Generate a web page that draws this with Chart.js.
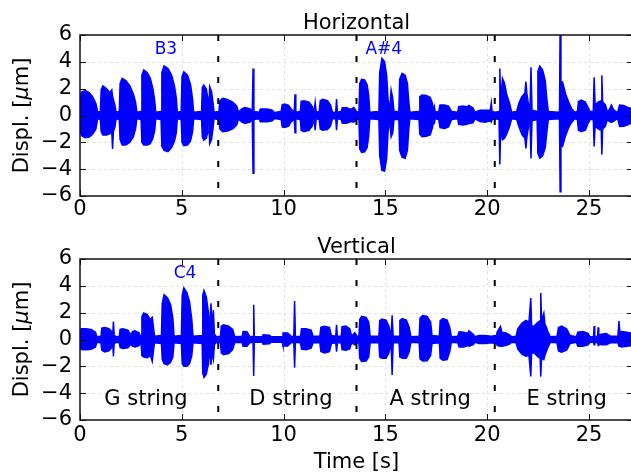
<!DOCTYPE html>
<html>
<head>
<meta charset="utf-8">
<script src="https://cdn.jsdelivr.net/npm/chart.js@4/dist/chart.umd.min.js"></script>
<style>
  html, body { margin: 0; padding: 0; background: #fff; overflow: hidden; width: 631px; height: 475px; }
  canvas.panel { position: absolute; left: 0; }
</style>
</head>
<body>
<canvas id="horizontal" class="panel" width="634" height="230" style="top:0px"></canvas>
<canvas id="vertical" class="panel" width="634" height="245" style="top:230px"></canvas>
<script>
// ---- axes ----
const timeRange = [0, 27.16];
const xTickValues = [0, 5, 10, 15, 20, 25];
const yTickValues = [-6, -4, -2, 0, 2, 4, 6];
const stringBoundaries = [6.79, 13.58, 20.37];
const stringNames = ['G string', 'D string', 'A string', 'E string'];

// ---- horizontal displacement envelope (µm): sample times, upper and lower bounds ----
const hTime = [
  0.00, 0.08, 0.25, 0.45, 0.62, 0.78, 0.86, 0.95,
  1.00, 1.04, 1.12, 1.30, 1.48, 1.56, 1.60, 1.64, 1.71, 1.77,
  1.93, 1.97, 2.07, 2.25, 2.45, 2.62, 2.73, 2.79,
  3.00, 3.04, 3.13, 3.30, 3.45, 3.58, 3.67, 3.72,
  3.98, 4.02, 4.13, 4.32, 4.50, 4.64, 4.73, 4.78,
  4.97, 5.01, 5.10, 5.28, 5.43, 5.53, 5.58,
  5.97, 6.01, 6.08, 6.20, 6.29, 6.33, 6.37, 6.46, 6.53, 6.58,
  6.82, 6.87, 7.00, 7.25, 7.50, 7.70, 7.78,
  7.95, 8.10, 8.35, 8.46, 8.50, 8.54,
  8.80, 8.86, 9.20, 9.44, 9.55,
  9.88, 9.93, 10.05, 10.25, 10.36, 10.52, 10.56, 10.60,
  10.82, 10.86, 11.00, 11.25, 11.40, 11.50, 11.55, 11.60,
  11.75, 11.80, 11.92, 12.15, 12.30, 12.40, 12.56, 12.60, 12.64,
  12.83, 12.88, 13.10, 13.30, 13.45, 13.60,
  13.70, 13.74, 13.83, 13.98, 14.10, 14.18, 14.23,
  14.68, 14.72, 14.83, 14.96, 15.06, 15.13, 15.20, 15.28, 15.36, 15.42,
  15.66, 15.70, 15.82, 15.97, 16.08, 16.15, 16.20,
  16.65, 16.69, 16.80, 17.00, 17.20, 17.31, 17.38, 17.41, 17.45,
  17.62, 17.68, 17.90, 18.10, 18.25,
  18.55, 18.60, 18.80, 19.00, 19.10, 19.30, 19.40,
  19.65, 19.90, 20.15, 20.20, 20.24, 20.40,
  20.58, 20.62, 20.66, 20.75, 20.85, 20.95, 21.10, 21.20,
  21.45, 21.55, 21.70, 21.85, 21.90, 21.95, 22.03, 22.10, 22.15, 22.20,
  22.45, 22.49, 22.58, 22.72, 22.85, 22.93, 23.00, 23.50,
  23.55, 23.58, 23.62, 23.70, 23.85, 24.00, 24.15, 24.30,
  24.43, 24.48, 24.62, 24.82, 24.95, 25.05, 25.21, 25.25, 25.30,
  25.45, 25.60, 25.63, 25.67, 25.80, 25.90,
  26.00, 26.10, 26.20, 26.35, 26.42, 26.50, 26.70, 26.90, 27.16
];
const hUpper = [
  1.3, 1.75, 1.85, 1.7, 1.4, 0.9, 0.3, 0.25,
  0.3, 1.9, 2.2, 2.0, 1.7, 1.9, 1.4, 1.2, 0.8, 0.25,
  0.3, 2.4, 2.77, 2.6, 2.2, 1.6, 1.0, 0.25,
  0.3, 3.0, 3.39, 3.2, 2.8, 2.0, 1.1, 0.25,
  0.3, 3.2, 3.69, 3.5, 3.0, 2.2, 1.3, 0.25,
  0.3, 2.9, 3.26, 3.0, 2.3, 1.2, 0.25,
  0.3, 2.1, 2.27, 2.0, 1.2, 0.4, 2.15, 1.8, 1.0, 0.25,
  0.3, 1.1, 1.28, 1.2, 1.0, 0.7, 0.25,
  0.5, 0.6, 0.5, 0.3, 3.5, 0.3,
  0.25, 0.48, 0.48, 0.4, 0.22,
  0.3, 0.8, 0.86, 0.75, 0.5, 0.25, 1.58, 0.25,
  0.3, 1.05, 1.1, 1.0, 0.7, 0.3, 0.97, 0.25,
  0.3, 1.1, 1.2, 1.1, 0.8, 0.25, 0.25, 1.23, 0.25,
  0.3, 0.58, 0.58, 0.45, 0.6, 0.25,
  0.3, 2.4, 2.7, 2.65, 2.3, 1.5, 0.25,
  0.3, 3.2, 4.26, 4.0, 3.0, 1.2, 0.3, 1.9, 1.3, 0.3,
  0.3, 2.7, 3.14, 3.0, 2.4, 1.0, 0.25,
  0.3, 1.4, 1.53, 1.5, 1.35, 0.9, 0.3, 0.6, 0.25,
  0.3, 0.78, 0.78, 0.7, 0.3,
  0.25, 0.65, 0.7, 0.65, 0.75, 0.55, 0.25,
  0.4, 0.4, 0.4, 0.95, 0.3, 0.25,
  0.3, 3.5, 1.0, 2.77, 2.4, 1.6, 0.9, 0.25,
  0.3, 0.9, 1.4, 1.65, 2.52, 1.6, 0.8, 0.4, 3.6, 0.4,
  0.3, 3.3, 3.69, 3.4, 2.6, 1.2, 0.3, 0.25,
  0.3, 6.5, 2.4, 2.5, 1.6, 1.0, 0.5, 0.25,
  0.3, 1.05, 1.15, 1.0, 0.6, 0.3, 0.3, 2.85, 0.8,
  1.0, 1.1, 3.0, 1.0, 0.8, 0.3,
  0.45, 0.78, 0.45, 0.25, 0.3, 0.78, 0.75, 0.6, 0.5
];
const hLower = [
  -1.1, -1.5, -1.65, -1.6, -1.4, -1.0, -0.3, -0.25,
  -0.3, -1.2, -1.45, -1.45, -1.35, -1.2, -2.5, -1.2, -0.9, -0.25,
  -0.3, -1.8, -2.2, -2.2, -2.0, -1.6, -1.0, -0.25,
  -0.3, -2.0, -2.2, -2.2, -2.1, -1.7, -1.1, -0.25,
  -0.3, -2.3, -2.6, -2.7, -2.4, -1.9, -1.3, -0.25,
  -0.3, -2.0, -2.25, -2.2, -1.9, -1.2, -0.25,
  -0.3, -1.6, -1.83, -1.7, -1.2, -0.4, -2.1, -1.8, -1.0, -0.25,
  -0.3, -1.0, -1.2, -1.15, -1.0, -0.7, -0.25,
  -0.5, -0.6, -0.5, -0.3, -4.3, -0.3,
  -0.25, -0.46, -0.46, -0.4, -0.22,
  -0.3, -0.85, -0.9, -0.8, -0.5, -0.25, -1.28, -0.25,
  -0.3, -1.1, -1.2, -1.1, -0.8, -0.3, -1.1, -0.25,
  -0.3, -1.0, -1.1, -1.05, -0.8, -0.25, -0.25, -1.1, -0.25,
  -0.3, -0.58, -0.58, -0.45, -0.5, -0.25,
  -0.3, -2.5, -2.75, -2.7, -2.4, -1.5, -0.25,
  -0.3, -3.0, -4.1, -4.15, -3.2, -1.2, -0.3, -1.6, -1.3, -0.3,
  -0.3, -2.6, -3.1, -3.19, -2.6, -1.0, -0.25,
  -0.3, -1.4, -1.58, -1.55, -1.45, -0.9, -0.3, -0.5, -0.25,
  -0.3, -0.9, -0.96, -0.85, -0.3,
  -0.25, -0.65, -0.7, -0.65, -0.6, -0.55, -0.25,
  -0.45, -0.5, -0.4, -0.5, -0.3, -0.25,
  -0.3, -3.64, -1.0, -1.8, -1.7, -1.4, -0.8, -0.25,
  -0.3, -0.8, -1.4, -1.7, -2.45, -1.6, -0.8, -0.4, -3.2, -0.4,
  -0.3, -2.8, -3.19, -3.0, -2.4, -1.2, -0.3, -0.25,
  -0.3, -5.68, -2.2, -2.3, -1.5, -0.9, -0.5, -0.25,
  -0.3, -1.1, -1.2, -1.1, -0.6, -0.3, -0.3, -2.3, -0.8,
  -1.0, -1.1, -2.9, -1.0, -0.8, -0.3,
  -0.45, -0.5, -0.45, -0.25, -0.3, -0.82, -0.8, -0.7, -0.5
];

// ---- vertical displacement envelope (µm) ----
const vTime = [
  0.00, 0.06, 0.30, 0.55, 0.76, 0.83,
  1.03, 1.07, 1.22, 1.42, 1.56, 1.61, 1.64, 1.68, 1.80,
  1.93, 1.97, 2.10, 2.35, 2.50, 2.58, 2.70, 2.90, 2.97,
  3.00, 3.04, 3.13, 3.30, 3.45, 3.55, 3.60, 3.66,
  4.00, 4.04, 4.13, 4.30, 4.45, 4.56, 4.62,
  4.98, 5.02, 5.10, 5.25, 5.38, 5.49, 5.55,
  6.00, 6.03, 6.09, 6.20, 6.31, 6.37, 6.43, 6.48, 6.55, 6.60, 6.70,
  6.90, 6.94, 7.05, 7.30, 7.50, 7.60,
  7.97, 8.01, 8.20, 8.33, 8.50, 8.53, 8.56,
  8.95, 9.00, 9.30, 9.40,
  9.93, 9.97, 10.20, 10.36, 10.50, 10.54, 10.58,
  10.83, 10.88, 11.10, 11.35, 11.45,
  11.78, 11.83, 12.00, 12.25, 12.35, 12.56, 12.60, 12.64,
  12.83, 12.87, 13.05, 13.25, 13.34, 13.50, 13.60,
  13.70, 13.74, 13.83, 14.05, 14.18, 14.25,
  14.68, 14.72, 14.83, 15.03, 15.17, 15.28, 15.33, 15.38,
  15.67, 15.71, 15.83, 16.03, 16.17, 16.25,
  16.66, 16.70, 16.83, 17.05, 17.22, 17.29,
  17.65, 17.69, 17.83, 18.03, 18.16, 18.24,
  18.55, 18.62, 18.85, 19.05, 19.10, 19.30, 19.40,
  19.60, 19.90, 20.20, 20.45, 20.50, 20.65, 20.72, 20.90, 21.10, 21.20,
  21.42, 21.50, 21.70, 21.90, 22.05, 22.14, 22.18, 22.30, 22.50, 22.60, 22.63, 22.67, 22.78, 22.83, 22.98, 23.10,
  23.43, 23.50, 23.65, 23.90, 24.07,
  24.38, 24.45, 24.70, 24.95, 25.05, 25.22, 25.25, 25.28,
  25.42, 25.45, 25.48, 25.60, 25.85, 26.05,
  26.42, 26.47, 26.52, 26.60, 26.85, 27.16
];
const vUpper = [
  0.6, 0.8, 0.8, 0.75, 0.55, 0.2,
  0.25, 0.85, 0.9, 0.8, 0.6, 0.3, 1.34, 0.3, 0.2,
  0.25, 0.75, 0.8, 0.7, 0.35, 0.6, 0.65, 0.5, 0.2,
  0.3, 1.7, 1.97, 1.85, 1.5, 1.65, 1.0, 0.25,
  0.3, 2.7, 3.34, 3.1, 2.6, 1.6, 0.25,
  0.3, 3.3, 3.84, 3.5, 2.8, 1.5, 0.25,
  0.3, 3.3, 3.65, 3.2, 2.0, 0.5, 2.7, 1.0, 2.2, 0.4, 0.2,
  0.25, 1.0, 1.1, 1.0, 0.75, 0.2,
  0.25, 0.6, 0.58, 0.25, 0.2, 2.59, 0.2,
  0.2, 0.35, 0.32, 0.2,
  0.2, 0.48, 0.48, 0.25, 0.2, 2.87, 0.2,
  0.25, 0.8, 0.8, 0.7, 0.25,
  0.25, 0.9, 0.98, 0.9, 0.3, 0.25, 1.1, 0.25,
  0.25, 0.95, 1.0, 0.8, 0.25, 0.5, 0.25,
  0.25, 1.5, 1.72, 1.65, 1.3, 0.25,
  0.25, 1.4, 1.52, 1.45, 1.0, 0.25, 1.8, 0.25,
  0.25, 1.4, 1.55, 1.45, 0.9, 0.2,
  0.25, 1.6, 1.78, 1.72, 1.3, 0.3,
  0.25, 1.4, 1.55, 1.45, 0.9, 0.2,
  0.25, 0.58, 0.55, 0.45, 0.65, 0.4, 0.2,
  0.3, 0.3, 0.25, 0.3, 0.6, 0.97, 0.55, 0.5, 0.35, 0.2,
  0.25, 0.8, 1.2, 1.42, 1.3, 3.09, 1.0, 1.0, 1.3, 1.4, 3.46, 1.4, 1.97, 1.2, 0.6, 0.2,
  0.25, 0.9, 1.0, 0.8, 0.3,
  0.2, 0.55, 0.6, 0.45, 0.2, 0.2, 1.0, 0.2,
  0.25, 0.9, 0.3, 0.4, 0.45, 0.25,
  0.25, 1.38, 0.5, 0.6, 0.55, 0.45
];
const vLower = [
  -0.6, -0.75, -0.77, -0.72, -0.55, -0.2,
  -0.25, -0.8, -0.92, -0.85, -0.6, -0.3, -1.27, -0.3, -0.2,
  -0.25, -0.6, -0.67, -0.62, -0.35, -0.5, -0.55, -0.45, -0.2,
  -0.3, -1.2, -1.3, -1.35, -1.2, -1.64, -0.9, -0.25,
  -0.3, -1.5, -1.8, -1.89, -1.7, -1.3, -0.25,
  -0.3, -1.8, -2.0, -2.0, -1.8, -1.2, -0.25,
  -0.3, -2.5, -2.82, -2.6, -1.8, -0.5, -1.9, -1.0, -1.5, -0.4, -0.2,
  -0.25, -1.0, -1.14, -1.05, -0.75, -0.2,
  -0.25, -0.5, -0.5, -0.25, -0.2, -2.72, -0.2,
  -0.2, -0.35, -0.32, -0.2,
  -0.2, -0.48, -0.48, -0.25, -0.2, -2.1, -0.2,
  -0.25, -0.72, -0.77, -0.65, -0.25,
  -0.25, -0.9, -1.0, -0.9, -0.3, -0.25, -0.9, -0.25,
  -0.25, -0.75, -0.8, -0.7, -0.25, -0.4, -0.25,
  -0.25, -1.4, -1.64, -1.6, -1.3, -0.25,
  -0.25, -1.3, -1.4, -1.4, -1.0, -0.25, -2.64, -0.25,
  -0.25, -1.3, -1.4, -1.4, -0.9, -0.2,
  -0.25, -1.45, -1.6, -1.58, -1.2, -0.3,
  -0.25, -1.4, -1.55, -1.5, -0.9, -0.2,
  -0.25, -0.55, -0.55, -0.45, -0.5, -0.4, -0.2,
  -0.3, -0.3, -0.25, -0.3, -0.45, -0.5, -0.5, -0.45, -0.35, -0.2,
  -0.25, -0.7, -1.1, -1.25, -1.2, -2.76, -1.0, -1.0, -1.3, -1.4, -2.76, -1.4, -1.5, -1.2, -0.6, -0.2,
  -0.25, -0.85, -0.95, -0.8, -0.3,
  -0.2, -0.5, -0.5, -0.4, -0.2, -0.2, -0.4, -0.2,
  -0.25, -0.45, -0.3, -0.4, -0.4, -0.25,
  -0.25, -0.5, -0.5, -0.55, -0.5, -0.45
];

[[hTime, hUpper, hLower], [vTime, vUpper, vLower]].forEach(([t, u, l]) => {
  if (t.length !== u.length || t.length !== l.length) {
    throw new Error('envelope length mismatch: ' + t.length + ' ' + u.length + ' ' + l.length);
  }
});

const FONT = '"DejaVu Sans", "Liberation Sans", sans-serif';
const SIGNAL = '#0000ff';

const minusLabel = v => (v < 0 ? '\u2212' + Math.abs(v) : String(v));

// Frame, separators, inward ticks and all annotation text of one panel
const framePlugin = {
  id: 'frame',
  beforeDatasetsDraw(chart) {
    const { ctx, chartArea: a, scales: { x, y } } = chart;
    ctx.save();
    ctx.strokeStyle = 'rgba(0,0,0,0.11)';
    ctx.lineWidth = 1;
    ctx.setLineDash([3, 3]);
    ctx.beginPath();
    yTickValues.forEach(v => {
      if (v === yTickValues[0] || v === yTickValues[yTickValues.length - 1]) return;
      const py = Math.round(y.getPixelForValue(v)) + 0.5;
      ctx.moveTo(a.left, py); ctx.lineTo(a.right, py);
    });
    xTickValues.forEach(v => {
      if (v === timeRange[0]) return;
      const px = Math.round(x.getPixelForValue(v)) + 0.5;
      ctx.moveTo(px, a.top); ctx.lineTo(px, a.bottom);
    });
    ctx.stroke();
    ctx.restore();
  },
  afterDatasetsDraw(chart, args, opts) {
    const { ctx, chartArea: a, scales: { x, y } } = chart;
    ctx.save();

    // string boundaries
    ctx.strokeStyle = '#000';
    ctx.lineWidth = 2;
    ctx.setLineDash([6, 15]);
    ctx.beginPath();
    stringBoundaries.forEach(t => {
      const px = x.getPixelForValue(t);
      ctx.moveTo(px, a.top); ctx.lineTo(px, a.bottom);
    });
    ctx.stroke();
    ctx.setLineDash([]);

    // axes frame
    ctx.strokeStyle = '#111';
    ctx.lineWidth = 1.5;
    ctx.strokeRect(a.left, a.top, a.right - a.left, a.bottom - a.top);

    // inward tick marks on all four sides
    ctx.lineWidth = 1;
    ctx.beginPath();
    xTickValues.forEach(v => {
      const px = Math.round(x.getPixelForValue(v)) + 0.5;
      ctx.moveTo(px, a.bottom); ctx.lineTo(px, a.bottom - 6);
      ctx.moveTo(px, a.top); ctx.lineTo(px, a.top + 6);
    });
    yTickValues.forEach(v => {
      const py = Math.round(y.getPixelForValue(v)) + 0.5;
      ctx.moveTo(a.left, py); ctx.lineTo(a.left + 6, py);
      ctx.moveTo(a.right, py); ctx.lineTo(a.right - 6, py);
    });
    ctx.stroke();

    // panel title
    const cx = (a.left + a.right) / 2;
    ctx.fillStyle = '#000';
    ctx.font = '21px ' + FONT;
    ctx.textAlign = 'center';
    ctx.textBaseline = 'alphabetic';
    ctx.fillText(opts.title, cx, a.top - 6);

    // note labels in data coordinates
    ctx.fillStyle = SIGNAL;
    ctx.font = '17px ' + FONT;
    (opts.notes || []).forEach(n => {
      ctx.fillText(n.text, x.getPixelForValue(n.t), y.getPixelForValue(n.y));
    });

    // string names
    if (opts.stringLabels) {
      ctx.fillStyle = '#000';
      ctx.font = '21px ' + FONT;
      opts.stringLabels.forEach((t, i) => {
        ctx.fillText(stringNames[i], x.getPixelForValue(t), y.getPixelForValue(-4.88));
      });
    }

    // x-axis title
    if (opts.xTitle) {
      ctx.fillStyle = '#000';
      ctx.font = '21px ' + FONT;
      ctx.fillText(opts.xTitle, cx, opts.xTitleBaseline);
    }

    // y-axis title with italic mu
    const parts = [['Displ. [', ''], ['\u03bc', 'italic '], ['m]', '']];
    ctx.translate(28, (a.top + a.bottom) / 2);
    ctx.rotate(-Math.PI / 2);
    ctx.fillStyle = '#000';
    ctx.textAlign = 'left';
    let total = 0;
    const widths = parts.map(([s, st]) => { ctx.font = st + '21px ' + FONT; const w = ctx.measureText(s).width; total += w; return w; });
    let pos = -total / 2;
    parts.forEach(([s, st], i) => {
      ctx.font = st + '21px ' + FONT;
      ctx.fillText(s, pos, 0);
      pos += widths[i];
    });

    ctx.restore();
  }
};

function makePanel(id, times, upper, lower, frame, layout) {
  const upperPts = times.map((t, i) => ({ x: t, y: upper[i] }));
  const lowerPts = times.map((t, i) => ({ x: t, y: lower[i] }));
  const lineStyle = {
    borderColor: SIGNAL, backgroundColor: SIGNAL, borderWidth: 1.5,
    pointRadius: 0, tension: 0
  };
  return new Chart(document.getElementById(id), {
    type: 'line',
    data: {
      datasets: [
        Object.assign({ label: frame.title + ' upper', data: upperPts, fill: '+1' }, lineStyle),
        Object.assign({ label: frame.title + ' lower', data: lowerPts, fill: false }, lineStyle)
      ]
    },
    options: {
      responsive: false,
      animation: false,
      devicePixelRatio: 1,
      layout: { padding: layout.padding },
      plugins: { legend: { display: false }, tooltip: { enabled: false }, frame },
      scales: {
        x: {
          type: 'linear', min: timeRange[0], max: timeRange[1],
          grid: { display: false, drawTicks: false }, border: { display: false },
          afterBuildTicks: s => { s.ticks = xTickValues.map(v => ({ value: v })); },
          afterFit: s => { s.height = layout.xHeight; },
          ticks: { color: '#000', font: { family: FONT, size: 21 }, padding: layout.xPad, maxRotation: 0, autoSkip: false, callback: v => String(v) }
        },
        y: {
          type: 'linear', min: -6, max: 6,
          grid: { display: false, drawTicks: false }, border: { display: false },
          afterBuildTicks: s => { s.ticks = yTickValues.map(v => ({ value: v })); },
          afterFit: s => { s.width = 80; },
          ticks: { color: '#000', font: { family: FONT, size: 21 }, padding: 8, autoSkip: false, callback: minusLabel }
        }
      }
    },
    plugins: [framePlugin]
  });
}

makePanel('horizontal', hTime, hUpper, hLower,
  { title: 'Horizontal', notes: [{ t: 4.22, y: 4.6, text: 'B3' }, { t: 14.92, y: 4.6, text: 'A#4' }] },
  { padding: { left: 0, right: 1, top: 35, bottom: 4 }, xHeight: 30, xPad: 1 });

makePanel('vertical', vTime, vUpper, vLower,
  { title: 'Vertical', notes: [{ t: 5.16, y: 4.6, text: 'C4' }],
    stringLabels: [3.24, 10.36, 17.2, 23.9], xTitle: 'Time [s]', xTitleBaseline: 238 },
  { padding: { left: 0, right: 1, top: 29, bottom: 15 }, xHeight: 40, xPad: 3 });
</script>
</body>
</html>
